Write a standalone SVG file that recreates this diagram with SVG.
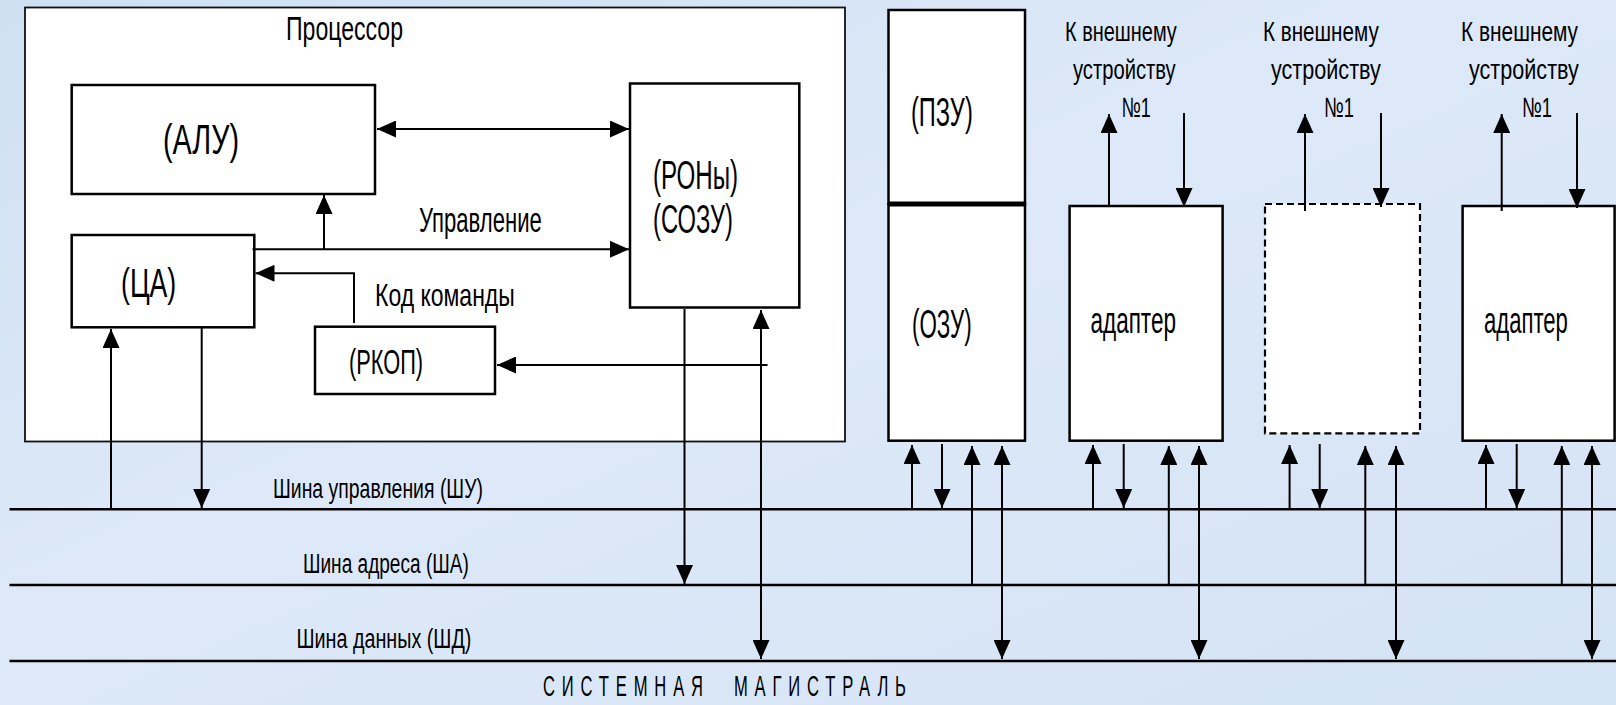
<svg xmlns="http://www.w3.org/2000/svg" width="1616" height="705" viewBox="0 0 1616 705">
<style>
.box{fill:#fff;stroke:#000;stroke-width:2.5}
.proc{fill:#fff;stroke:#111;stroke-width:1.8}
.dash{fill:#fff;stroke:#000;stroke-width:2.2;stroke-dasharray:7 4}
.ln{fill:none;stroke:#000;stroke-width:2}
.bus{fill:none;stroke:#000;stroke-width:2.6}
.t{font-family:"Liberation Sans",Arial,sans-serif;fill:#000}
</style>
<defs>
<linearGradient id="bg" x1="0" y1="0" x2="1" y2="1">
<stop offset="0" stop-color="#cfe0f3"/>
<stop offset="0.45" stop-color="#dde9f8"/>
<stop offset="1" stop-color="#d4e3f5"/>
</linearGradient>
<marker id="ah" viewBox="0 0 19 17" refX="19" refY="8.5" markerWidth="19" markerHeight="17" markerUnits="userSpaceOnUse" orient="auto-start-reverse">
<path d="M0,0 L19,8.5 L0,17 z" fill="#000"/>
</marker>
</defs>
<rect width="1616" height="705" fill="url(#bg)"/>

<g id="processor">
<rect class="proc" x="25" y="7.5" width="820" height="434"/>
<text class="t" transform="translate(286,40) scale(0.65,1)" font-size="33" textLength="180" lengthAdjust="spacingAndGlyphs">Процессор</text>
</g>
<g id="alu">
<rect class="box" x="71.7" y="85" width="303.3" height="109"/>
<text class="t" transform="translate(163,154) scale(0.65,1)" font-size="42" textLength="117" lengthAdjust="spacingAndGlyphs">(АЛУ)</text>
</g>
<g id="ron">
<rect class="box" x="630" y="83.5" width="169.3" height="224"/>
<text class="t" transform="translate(653,189) scale(0.65,1)" font-size="40" textLength="131" lengthAdjust="spacingAndGlyphs">(РОНы)</text>
<text class="t" transform="translate(653,233) scale(0.65,1)" font-size="40" textLength="123" lengthAdjust="spacingAndGlyphs">(СОЗУ)</text>
</g>
<g id="ca">
<rect class="box" x="71.7" y="235" width="182.6" height="92.3"/>
<text class="t" transform="translate(121,297) scale(0.65,1)" font-size="41" textLength="85" lengthAdjust="spacingAndGlyphs">(ЦА)</text>
</g>
<g id="rkop">
<rect class="box" x="315" y="326.7" width="180" height="67.3"/>
<text class="t" transform="translate(349,374) scale(0.65,1)" font-size="35" textLength="114" lengthAdjust="spacingAndGlyphs">(РКОП)</text>
</g>
<g id="pzu">
<rect class="box" x="888.5" y="10" width="136.5" height="194"/>
<text class="t" transform="translate(911,126) scale(0.65,1)" font-size="41" textLength="95" lengthAdjust="spacingAndGlyphs">(ПЗУ)</text>
</g>
<g id="ozu">
<rect class="box" x="888.5" y="204" width="136.5" height="236.7"/>
<line x1="888.5" y1="204" x2="1025" y2="204" stroke="#000" stroke-width="5"/>
<text class="t" transform="translate(912,338) scale(0.65,1)" font-size="41" textLength="92" lengthAdjust="spacingAndGlyphs">(ОЗУ)</text>
</g>
<g id="adapter1">
<rect class="box" x="1069.6" y="206" width="153" height="234.7"/>
<text class="t" transform="translate(1090.5,333) scale(0.65,1)" font-size="37" textLength="131.5" lengthAdjust="spacingAndGlyphs">адаптер</text>
</g>
<g id="adapter2">
<rect class="dash" x="1265" y="204" width="155" height="229.3"/>
</g>
<g id="adapter3">
<rect class="box" x="1462.6" y="206" width="152" height="234.7"/>
<text class="t" transform="translate(1484,333) scale(0.65,1)" font-size="37" textLength="129" lengthAdjust="spacingAndGlyphs">адаптер</text>
</g>

<g id="ext-labels">
<text class="t" transform="translate(1065,41) scale(0.65,1)" font-size="28" textLength="172" lengthAdjust="spacingAndGlyphs">К внешнему</text>
<text class="t" transform="translate(1073,79) scale(0.65,1)" font-size="28" textLength="158" lengthAdjust="spacingAndGlyphs">устройству</text>
<text class="t" transform="translate(1121.5,117) scale(0.65,1)" font-size="28" textLength="45" lengthAdjust="spacingAndGlyphs">№1</text>
<text class="t" transform="translate(1263,41) scale(0.65,1)" font-size="28" textLength="178" lengthAdjust="spacingAndGlyphs">К внешнему</text>
<text class="t" transform="translate(1271,79) scale(0.65,1)" font-size="28" textLength="169" lengthAdjust="spacingAndGlyphs">устройству</text>
<text class="t" transform="translate(1324,117) scale(0.65,1)" font-size="28" textLength="46" lengthAdjust="spacingAndGlyphs">№1</text>
<text class="t" transform="translate(1461,41) scale(0.65,1)" font-size="28" textLength="180" lengthAdjust="spacingAndGlyphs">К внешнему</text>
<text class="t" transform="translate(1469,79) scale(0.65,1)" font-size="28" textLength="169" lengthAdjust="spacingAndGlyphs">устройству</text>
<text class="t" transform="translate(1522,117) scale(0.65,1)" font-size="28" textLength="46" lengthAdjust="spacingAndGlyphs">№1</text>
</g>

<g id="buses">
<line class="bus" x1="9.5" y1="509.3" x2="1616" y2="509.3"/>
<line class="bus" x1="9.5" y1="585" x2="1616" y2="585"/>
<line class="bus" x1="9.5" y1="661" x2="1616" y2="661"/>
<text class="t" transform="translate(273,498) scale(0.65,1)" font-size="28" textLength="323" lengthAdjust="spacingAndGlyphs">Шина управления (ШУ)</text>
<text class="t" transform="translate(303,573) scale(0.65,1)" font-size="28" textLength="255" lengthAdjust="spacingAndGlyphs">Шина адреса (ША)</text>
<text class="t" transform="translate(296.5,648) scale(0.65,1)" font-size="28" textLength="269" lengthAdjust="spacingAndGlyphs">Шина данных (ШД)</text>
<text class="t" transform="translate(543,696) scale(0.65,1)" font-size="29" letter-spacing="12" word-spacing="22" textLength="569" lengthAdjust="spacingAndGlyphs">СИСТЕМНАЯ МАГИСТРАЛЬ</text>
</g>

<g id="connectors">
<line class="ln" x1="377" y1="129" x2="629" y2="129" marker-start="url(#ah)" marker-end="url(#ah)"/>
<line class="ln" x1="252.5" y1="249.3" x2="629" y2="249.3" marker-end="url(#ah)"/>
<text class="t" transform="translate(419,232) scale(0.65,1)" font-size="36" textLength="189" lengthAdjust="spacingAndGlyphs">Управление</text>
<line class="ln" x1="324" y1="249.3" x2="324" y2="195" marker-end="url(#ah)"/>
<path class="ln" d="M354,323 V273.3 H255.5" marker-end="url(#ah)"/>
<text class="t" transform="translate(375,306) scale(0.65,1)" font-size="32" textLength="215" lengthAdjust="spacingAndGlyphs">Код команды</text>
<line class="ln" x1="767.6" y1="365" x2="497" y2="365" marker-end="url(#ah)"/>
<line class="ln" x1="111" y1="509.3" x2="111" y2="329" marker-end="url(#ah)"/>
<line class="ln" x1="201.7" y1="328" x2="201.7" y2="508" marker-end="url(#ah)"/>
<line class="ln" x1="684.5" y1="309" x2="684.5" y2="584" marker-end="url(#ah)"/>
<line class="ln" x1="761" y1="310" x2="761" y2="659" marker-start="url(#ah)" marker-end="url(#ah)"/>

<line class="ln" x1="912" y1="509.3" x2="912" y2="445" marker-end="url(#ah)"/>
<line class="ln" x1="942" y1="444" x2="942" y2="508" marker-end="url(#ah)"/>
<line class="ln" x1="972" y1="585" x2="972" y2="446" marker-end="url(#ah)"/>
<line class="ln" x1="1002" y1="446" x2="1002" y2="659" marker-start="url(#ah)" marker-end="url(#ah)"/>

<line class="ln" x1="1093" y1="509.3" x2="1093" y2="445" marker-end="url(#ah)"/>
<line class="ln" x1="1123.7" y1="444" x2="1123.7" y2="508" marker-end="url(#ah)"/>
<line class="ln" x1="1168.8" y1="585" x2="1168.8" y2="446" marker-end="url(#ah)"/>
<line class="ln" x1="1199" y1="446" x2="1199" y2="659" marker-start="url(#ah)" marker-end="url(#ah)"/>

<line class="ln" x1="1289.6" y1="509.3" x2="1289.6" y2="445" marker-end="url(#ah)"/>
<line class="ln" x1="1319.7" y1="444" x2="1319.7" y2="508" marker-end="url(#ah)"/>
<line class="ln" x1="1365.3" y1="585" x2="1365.3" y2="446" marker-end="url(#ah)"/>
<line class="ln" x1="1396" y1="446" x2="1396" y2="659" marker-start="url(#ah)" marker-end="url(#ah)"/>

<line class="ln" x1="1486" y1="509.3" x2="1486" y2="445" marker-end="url(#ah)"/>
<line class="ln" x1="1516.7" y1="444" x2="1516.7" y2="508" marker-end="url(#ah)"/>
<line class="ln" x1="1561.8" y1="585" x2="1561.8" y2="446" marker-end="url(#ah)"/>
<line class="ln" x1="1592" y1="446" x2="1592" y2="659" marker-start="url(#ah)" marker-end="url(#ah)"/>

<line class="ln" x1="1109" y1="206" x2="1109" y2="114" marker-end="url(#ah)"/>
<line class="ln" x1="1184" y1="113" x2="1184" y2="207" marker-end="url(#ah)"/>
<line class="ln" x1="1305" y1="211" x2="1305" y2="114" marker-end="url(#ah)"/>
<line class="ln" x1="1381" y1="113" x2="1381" y2="207" marker-end="url(#ah)"/>
<line class="ln" x1="1501.7" y1="211" x2="1501.7" y2="114" marker-end="url(#ah)"/>
<line class="ln" x1="1577" y1="113" x2="1577" y2="208" marker-end="url(#ah)"/>
</g>
</svg>
